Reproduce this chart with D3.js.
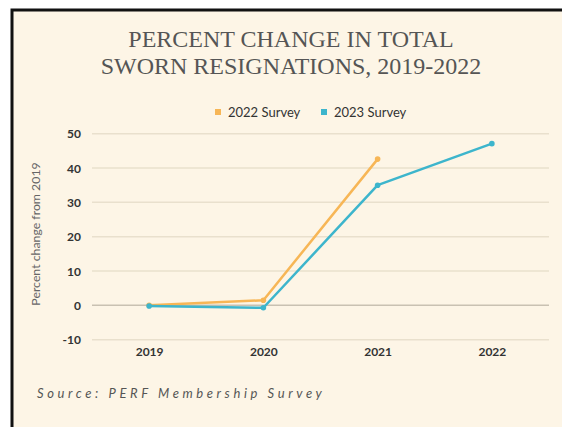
<!DOCTYPE html>
<html><head><meta charset="utf-8">
<script src="https://cdn.jsdelivr.net/npm/d3@7"></script>
<style>body{margin:0;background:#fff;}svg{display:block;}</style>
</head><body>
<svg id="c" width="562" height="427"></svg>
<script>
const years = ["2019","2020","2021","2022"];
const survey2022 = [0, 1.5, 42.6, null];
const survey2023 = [-0.2, -0.7, 35.0, 47.1];
const yTicks = [-10, 0, 10, 20, 30, 40, 50];
const seriesNames = ["2022 Survey", "2023 Survey"];
const seriesColors = ["#f7b656", "#3db5cc"];

const svg = d3.select("#c");
// panel
svg.append("rect").attr("x",12).attr("y",10).attr("width",560).attr("height",430)
  .attr("fill","#fdf5e6").attr("stroke","#111").attr("stroke-width",3);

const title = svg.append("text").attr("text-anchor","middle").attr("fill","#555")
  .attr("font-family","'Liberation Serif', 'DejaVu Serif', serif").attr("font-size",24);
title.append("tspan").attr("x",291).attr("y",47).text("PERCENT CHANGE IN TOTAL");
title.append("tspan").attr("x",291).attr("y",73.5).text("SWORN RESIGNATIONS, 2019-2022");

// legend
const leg = svg.append("g").attr("font-family","Lato, sans-serif").attr("font-size",13).attr("fill","#333");
const legX = [215, 321];
seriesNames.forEach((n,i)=>{
  leg.append("rect").attr("x",legX[i]).attr("y",109).attr("width",6).attr("height",6).attr("fill",seriesColors[i]);
  leg.append("text").attr("x",legX[i]+13).attr("y",117).text(n);
});

const x = d3.scalePoint().domain(years).range([92,549]).padding(0.5);
const y = d3.scaleLinear().domain([-10,50]).range([339.7,133.7]);

// gridlines
svg.append("g").selectAll("line").data(yTicks).join("line")
  .attr("x1",92).attr("x2",549).attr("y1",d=>y(d)).attr("y2",d=>y(d))
  .attr("stroke",d=>d===0?"#c9c1b2":"#e9e0cd").attr("stroke-width",1.5);

// y axis labels
const yAxis = d3.axisLeft(y).tickValues(yTicks).tickFormat(d=>String(d)).tickSize(0).tickPadding(0);
const ya = svg.append("g").attr("transform","translate(81,0)").call(yAxis);
ya.select(".domain").remove();
ya.selectAll("text").attr("font-family","Lato, sans-serif").attr("font-size",12).attr("font-weight","bold").attr("fill","#333").attr("dy","0.35em");

const xAxis = d3.axisBottom(x).tickSize(0).tickPadding(0);
const xa = svg.append("g").attr("transform","translate(0,347)").call(xAxis);
xa.select(".domain").remove();
xa.selectAll("text").attr("font-family","Lato, sans-serif").attr("font-size",12).attr("font-weight","bold").attr("fill","#333");

// y title
svg.append("text").attr("transform","translate(40,234) rotate(-90)").attr("text-anchor","middle")
  .attr("font-family","Lato, sans-serif").attr("font-size",12.3).attr("fill","#666")
  .text("Percent change from 2019");

// lines
const line = d3.line().defined(d=>d.v!==null).x(d=>x(d.year)).y(d=>y(d.v));
[survey2022, survey2023].forEach((s,i)=>{
  const pts = years.map((yr,j)=>({year:yr, v:s[j]}));
  svg.append("path").datum(pts).attr("fill","none").attr("stroke",seriesColors[i])
    .attr("stroke-width",2.5).attr("stroke-linejoin","round").attr("d",line);
  svg.append("g").selectAll("circle").data(pts.filter(d=>d.v!==null)).join("circle")
    .attr("cx",d=>x(d.year)).attr("cy",d=>y(d.v)).attr("r",2.8).attr("fill",seriesColors[i]);
});

// source
svg.append("text").attr("x",37).attr("y",398).attr("font-family","Lato, sans-serif")
  .attr("font-size",13).attr("font-style","italic").attr("letter-spacing",3.6).attr("fill","#555")
  .text("Source: PERF Membership Survey");
</script>
</body></html>
